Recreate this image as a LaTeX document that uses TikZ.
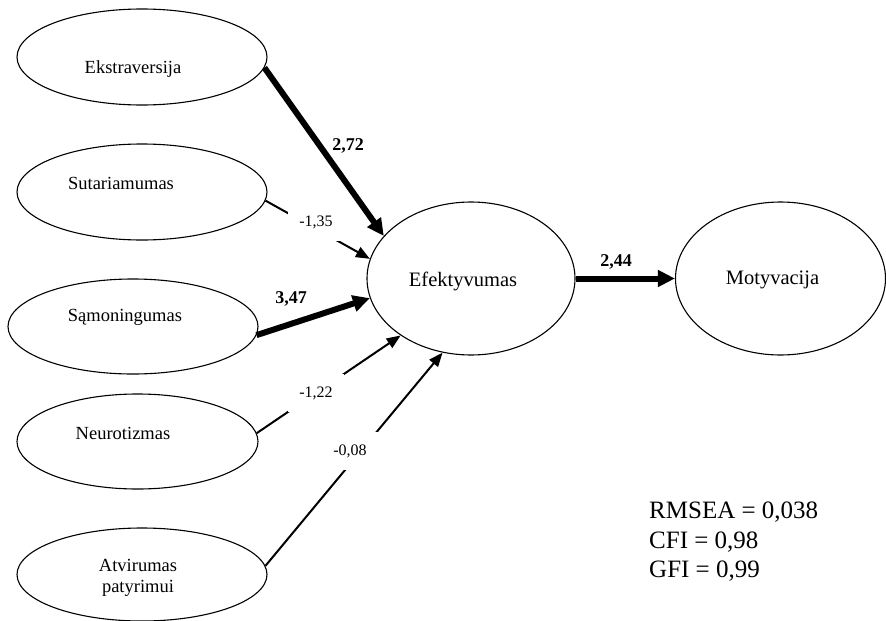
\documentclass[tikz,border=0pt]{standalone}
\usepackage{fontspec}
\setmainfont{Liberation Serif}
\usetikzlibrary{shapes.geometric,arrows.meta}
\begin{document}
\begin{tikzpicture}[x=1pt,y=-1pt,
  lat/.style={draw, ellipse, line width=1.1pt, inner sep=0pt},
  nm/.style={font=\fontsize{18.5}{21}\selectfont, inner sep=0pt, align=center},
  big/.style={font=\fontsize{20.5}{24}\selectfont, inner sep=0pt},
  slimarrow/.style={line width=2pt, -{Triangle[length=14pt,width=11pt]}},
  fatarrow/.style={line width=6pt, -{Triangle[length=17pt,width=16pt]}},
  coef/.style={font=\fontsize{18}{20}\selectfont\bfseries, inner sep=0pt},
  gaplabel/.style={fill=white, font=\fontsize{16}{18}\selectfont, minimum width=56pt, minimum height=38pt, inner sep=0pt},
]
\useasboundingbox (0,0) rectangle (886,621);

% latent variables
\node[lat, minimum width=250pt, minimum height=96pt] (ext) at (142,57) {};
\node[lat, minimum width=250pt, minimum height=96pt] (sut) at (142,192) {};
\node[lat, minimum width=250pt, minimum height=95pt] (sam) at (133,326.5) {};
\node[lat, minimum width=241pt, minimum height=95pt] (neu) at (137.5,441.5) {};
\node[lat, minimum width=250pt, minimum height=93pt] (atv) at (142,574.5) {};
\node[lat, minimum width=208pt, minimum height=153pt] (efe) at (471,278.5) {};
\node[lat, minimum width=210pt, minimum height=153pt] (mot) at (780.5,278.5) {};

% paths
\draw[fatarrow] (ext.-5.4) -- (efe.154);
\draw[slimarrow] (sut.-4.6) -- (efe.169.3);
\draw[fatarrow] (sam.-4.3) -- (efe.191);
\draw[slimarrow] (neu.4.1) -- (efe.219);
\draw[slimarrow] (atv.4.4) -- (efe.249.5);
\draw[fatarrow] (efe.east) -- (mot.west);

% coefficients
\node[coef] (c1) at (348,146) {2,72};
\node[gaplabel] (c2) at (316,222) {-1,35};
\node[coef] (c3) at (291,299) {3,47};
\node[gaplabel] (c4) at (316,393) {-1,22};
\node[gaplabel] (c5) at (350,451) {-0,08};
\node[coef] (c6) at (616,262) {2,44};

% texts
\node[nm] (ext-t) at ([shift={(-9,12)}]ext.center) {Ekstraversija};
\node[nm] (sut-t) at ([shift={(-21,-9)}]sut.center) {Sutariamumas};
\node[nm] (sam-t) at ([shift={(-8,-9.5)}]sam.center) {Sąmoningumas};
\node[nm] (neu-t) at ([shift={(-14.5,-8.5)}]neu.center) {Neurotizmas};
\node[nm] (atv-t) at ([shift={(-4,3)}]atv.center) {Atvirumas\\patyrimui};
\node[big] (efe-t) at ([shift={(-8,2.5)}]efe.center) {Efektyvumas};
\node[big] (mot-t) at ([shift={(-8,1.5)}]mot.center) {Motyvacija};

% fit indices
\node[font=\fontsize{25}{29.5}\selectfont, align=left, anchor=west, inner sep=0pt] (fit) at (649,542) {RMSEA = 0,038\\CFI = 0,98\\GFI = 0,99};
\end{tikzpicture}
\end{document}
